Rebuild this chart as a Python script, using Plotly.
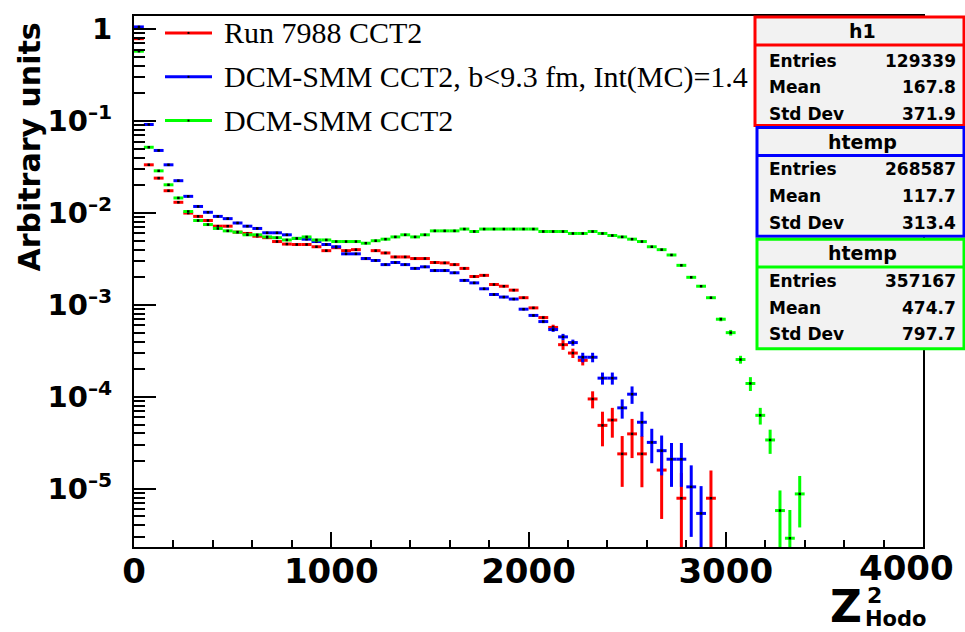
import plotly.graph_objects as go

# ---------------- data (bin width 50, bins start at 0) ----------------
bin_width = 50

red_vals = [0.79, 0.0335, 0.024, 0.0175, 0.0131, 0.0100, 0.0092, 0.0083, 0.0072, 0.0072,
            0.0062, 0.0060, 0.0056, 0.0054, 0.0049, 0.0046, 0.00455, 0.00455, 0.0043, 0.0039,
            0.0042, 0.0039, 0.0040, 0.0032, 0.0039, 0.00368, 0.00333, 0.00333, 0.0032, 0.0032,
            0.00290, 0.00287, 0.00275, 0.0025, 0.00204, 0.0021, 0.00167, 0.0016, 0.00145, 0.0012,
            0.00093, 0.00073, 0.00057, 0.00037, 0.00030, 0.00025, 9.5e-5, 4.9e-5, 5.6e-5, 2.4e-5,
            3.96e-5, 2.4e-5, None, 1.6e-5, None, 7.9e-6, None, None, 7.9e-6]
red_err = [0.0] * 41 + [3e-5, 4e-5, 4.5e-5, 3.5e-5, 3e-5, 2e-5, 2e-5, 2e-5, 1.35e-5,
                        1.8e-5, 1.36e-5, 0.0, 1.13e-5, 0.0, 7e-6, 0.0, 0.0, 7.9e-6]

blue_vals = [1.06, 0.092, 0.048, 0.0335, 0.0225, 0.0152, 0.0118, 0.0102, 0.0092, 0.0087,
             0.0078, 0.0072, 0.0068, 0.0061, 0.0061, 0.0058, 0.0053, 0.0052, 0.0049, 0.00455,
             0.0043, 0.0036, 0.0036, 0.0032, 0.00305, 0.00275, 0.0029, 0.00275, 0.0025, 0.0026,
             0.00237, 0.00237, 0.00224, 0.00185, 0.00174, 0.0015, 0.0013, 0.00122, 0.00116, 0.0009,
             0.00077, 0.00066, 0.00054, 0.00045, 0.00039, 0.00027, 0.00027, 0.00016, 0.00016, 7.6e-5,
             1.07e-4, 5.3e-5, 3.2e-5, 2.6e-5, 2.1e-5, 2.1e-5, 1.05e-5, 5.4e-6]
blue_err = [0.0] * 41 + [2.5e-5, 3e-5, 3.5e-5, 3e-5, 3.2e-5, 3.2e-5, 2.4e-5, 2.4e-5, 1.8e-5,
                         2.3e-5, 1.6e-5, 1.3e-5, 1.2e-5, 1.05e-5, 1.05e-5, 7.5e-6, 5.3e-6]

green_vals = [0.577, 0.052, 0.0288, 0.0203, 0.0146, 0.0104, 0.0083, 0.0075, 0.0068, 0.0064,
              0.0062, 0.0058, 0.0058, 0.0055, 0.0054, 0.0051, 0.0053, 0.0055, 0.0051, 0.0051,
              0.0049, 0.0049, 0.0049, 0.0047, 0.0050, 0.0052, 0.0055, 0.0058, 0.0055, 0.0058,
              0.0064, 0.0064, 0.0064, 0.0067, 0.0063, 0.0067, 0.0067, 0.0067, 0.0067, 0.0067,
              0.0067, 0.0063, 0.0063, 0.0063, 0.0060, 0.0060, 0.0063, 0.0060, 0.0057, 0.0055,
              0.0052, 0.0049, 0.0043, 0.0040, 0.0035, 0.0027, 0.0020, 0.0016, 0.0012, 7.0e-4,
              5.0e-4, 2.55e-4, 1.4e-4, 6.3e-5, 3.4e-5, 5.8e-6, 2.9e-6, 8.8e-6]
green_err = [0.0] * 59 + [3.5e-5, 3.5e-5, 2.5e-5, 2.4e-5, 1.3e-5, 1e-5, 3.8e-6, 3e-6, 5e-6]

legend_labels = ["Run 7988 CCT2",
                 "DCM-SMM CCT2, b<9.3 fm, Int(MC)=1.4",
                 "DCM-SMM CCT2"]
colors = ["#ff0000", "#0000ff", "#00ff00"]

stat_titles = ["h1", "htemp", "htemp"]
stat_entries = ["129339", "268587", "357167"]
stat_means = ["167.8", "117.7", "474.7"]
stat_stddev = ["371.9", "313.4", "797.7"]

x_tickvals = [0, 1000, 2000, 3000, 4000]
x_ticktext = ["0", "1000", "2000", "3000", "4000"]
y_tickvals = [1e-5, 1e-4, 1e-3, 1e-2, 1e-1, 1]
y_ticktext = ["10<sup>–5</sup>", "10<sup>–4</sup>", "10<sup>–3</sup>",
              "10<sup>–2</sup>", "10<sup>–1</sup>", "1"]
x_range = [0, 4000]
y_range_log = [-5.633, 0.144]

# ---------------- geometry helpers (pixels -> paper) ----------------
W, H = 965, 632
L, R, T, B = 134, 42, 14, 85
PW, PH = W - L - R, H - T - B


def pxx(x):
    return (x - L) / PW


def pxy(y):
    return (H - B - y) / PH


BOLD = "DejaVu Sans"

fig = go.Figure()

series = [(red_vals, red_err, colors[0]),
          (blue_vals, blue_err, colors[1]),
          (green_vals, green_err, colors[2])]

for vals, errs, col in series:
    xs, ys, es = [], [], []
    for i, v in enumerate(vals):
        if v is None:
            continue
        xs.append(bin_width * i + bin_width / 2)
        ys.append(v)
        es.append(errs[i])
    fig.add_trace(go.Scatter(
        x=xs, y=ys, mode="markers",
        marker=dict(size=2.5, color="black", symbol="square"),
        error_x=dict(type="constant", value=bin_width / 2, thickness=3, width=0, color=col),
        error_y=dict(type="data", array=es, symmetric=True, thickness=3, width=0, color=col),
        showlegend=False, hoverinfo="skip"))

shapes = []
annotations = []

# ---- legend (drawn manually, ROOT style) ----
leg_y = [31, 75, 119]
for lab, col, yy in zip(legend_labels, colors, leg_y):
    shapes.append(dict(type="line", xref="paper", yref="paper",
                       x0=pxx(165), x1=pxx(212), y0=pxy(yy), y1=pxy(yy),
                       line=dict(color=col, width=3), layer="above"))
    shapes.append(dict(type="rect", xref="paper", yref="paper",
                       x0=pxx(187.5), x1=pxx(189.5), y0=pxy(yy - 1), y1=pxy(yy + 1),
                       fillcolor="black", line=dict(width=0), layer="above"))
    annotations.append(dict(text=lab, xref="paper", yref="paper", x=pxx(222), y=pxy(yy),
                            xanchor="left", yanchor="middle", showarrow=False,
                            font=dict(family="Liberation Serif", size=30, color="black")))

# ---- stat boxes ----
boxes = [(755, 15, 124, 43), (757, 126, 235, 154), (757, 238, 348, 266)]
row_y = [(29, 59, 85, 112), (140, 168, 195, 222), (252, 280, 307, 333)]
for k, ((bx0, by0, by1, bsep), rows) in enumerate(zip(boxes, row_y)):
    col = colors[k]
    shapes.append(dict(type="rect", xref="paper", yref="paper",
                       x0=pxx(bx0), x1=pxx(964), y0=pxy(by1), y1=pxy(by0),
                       fillcolor="#f2f2f2", line=dict(color=col, width=3), layer="above"))
    shapes.append(dict(type="line", xref="paper", yref="paper",
                       x0=pxx(bx0), x1=pxx(964), y0=pxy(bsep), y1=pxy(bsep),
                       line=dict(color=col, width=3), layer="above"))
    annotations.append(dict(text=stat_titles[k], xref="paper", yref="paper",
                            x=pxx(862), y=pxy(rows[0]), xanchor="center", yanchor="middle",
                            showarrow=False,
                            font=dict(family=BOLD, size=19, color="black", weight="bold")))
    for lab, val, yy in zip(["Entries", "Mean", "Std Dev"],
                            [stat_entries[k], stat_means[k], stat_stddev[k]], rows[1:]):
        annotations.append(dict(text=lab, xref="paper", yref="paper", x=pxx(767), y=pxy(yy),
                                xanchor="left", yanchor="middle", showarrow=False,
                                font=dict(family=BOLD, size=17, color="black", weight="bold")))
        annotations.append(dict(text=val, xref="paper", yref="paper", x=pxx(958), y=pxy(yy),
                                xanchor="right", yanchor="middle", showarrow=False,
                                font=dict(family=BOLD, size=17, color="black", weight="bold")))

# ---- last x tick label, kept inside the canvas as ROOT does ----
annotations.append(dict(text=x_ticktext[-1], xref="paper", yref="paper",
                        x=pxx(906), y=pxy(568), xanchor="center", yanchor="middle",
                        showarrow=False,
                        font=dict(family=BOLD, size=34, color="black", weight="bold")))

# ---- axis titles ----
annotations.append(dict(text="Arbitrary units", xref="paper", yref="paper",
                        x=pxx(30), y=pxy(146), xanchor="center", yanchor="middle",
                        textangle=-90, showarrow=False,
                        font=dict(family=BOLD, size=30, color="black", weight="bold")))
annotations.append(dict(text="Z", xref="paper", yref="paper", x=pxx(846), y=pxy(607),
                        xanchor="center", yanchor="middle", showarrow=False,
                        font=dict(family=BOLD, size=44, color="black", weight="bold")))
annotations.append(dict(text="2", xref="paper", yref="paper", x=pxx(874), y=pxy(596),
                        xanchor="center", yanchor="middle", showarrow=False,
                        font=dict(family=BOLD, size=22, color="black", weight="bold")))
annotations.append(dict(text="Hodo", xref="paper", yref="paper", x=pxx(895), y=pxy(619),
                        xanchor="center", yanchor="middle", showarrow=False,
                        font=dict(family=BOLD, size=21, color="black", weight="bold")))

fig.update_layout(
    width=W, height=H,
    margin=dict(l=L, r=R, t=T, b=B, pad=0),
    paper_bgcolor="white", plot_bgcolor="white",
    showlegend=False,
    shapes=shapes, annotations=annotations,
    xaxis=dict(range=x_range, showgrid=False, zeroline=False,
               showline=True, linecolor="black", linewidth=2, mirror=True,
               ticks="inside", ticklen=15, tickwidth=2, tickcolor="black",
               tickmode="array", tickvals=x_tickvals,
               ticktext=x_ticktext[:-1] + [""],
               minor=dict(ticks="inside", ticklen=7, tickwidth=2, tickcolor="black",
                          tickmode="linear", tick0=0, dtick=200, showgrid=False),
               ticklabelstandoff=-7,
               tickfont=dict(family=BOLD, size=34, color="black", weight="bold")),
    yaxis=dict(type="log", range=y_range_log, showgrid=False, zeroline=False,
               showline=True, linecolor="black", linewidth=2, mirror=True,
               ticks="inside", ticklen=22, tickwidth=2, tickcolor="black",
               tickmode="array", tickvals=y_tickvals, ticktext=y_ticktext,
               minor=dict(ticks="inside", ticklen=11, tickwidth=2, tickcolor="black",
                          tickmode="linear", dtick="D1", showgrid=False),
               ticklabelstandoff=14,
               tickfont=dict(family=BOLD, size=29, color="black", weight="bold")),
)

fig.write_html("out.html")
